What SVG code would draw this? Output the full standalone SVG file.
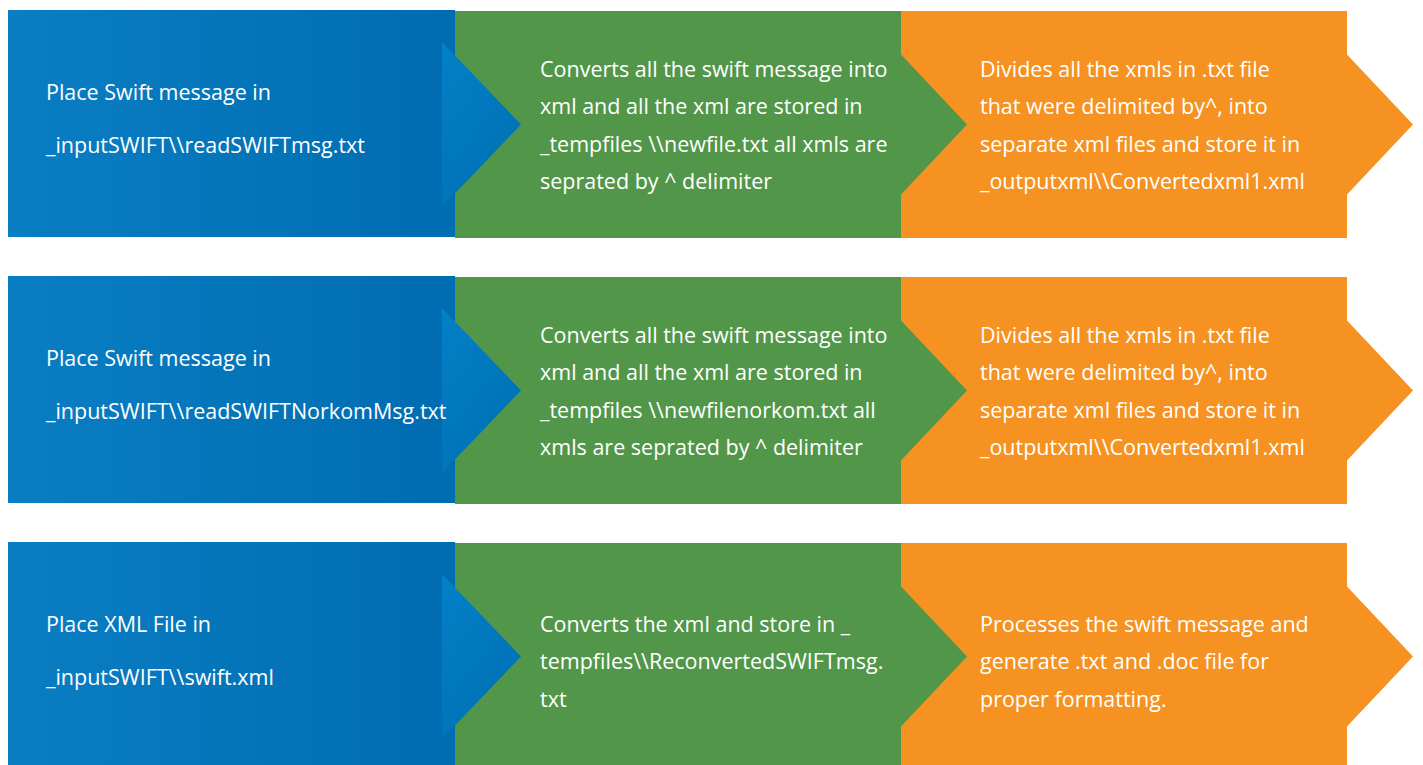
<svg xmlns="http://www.w3.org/2000/svg" width="1423" height="765" viewBox="0 0 1423 765">
  <style>
    .lbl { font-family: "Open Sans", "Liberation Sans", sans-serif; font-size: 21.5px; fill: #ffffff; }
    .green { fill: #52964a; }
    .orange { fill: #f69221; }
  </style>
  <defs>
    <linearGradient id="blueBody" x1="0" y1="0" x2="1" y2="0">
      <stop offset="0" stop-color="#0a7ec3"/>
      <stop offset="1" stop-color="#006cb1"/>
    </linearGradient>
    <linearGradient id="blueTip" x1="0" y1="0" x2="0.6" y2="1">
      <stop offset="0" stop-color="#0380c6"/>
      <stop offset="1" stop-color="#0071b6"/>
    </linearGradient>
    <!-- one row of the process: blue, green, orange stages -->
    <g id="stages">
      <polygon class="orange" points="901,11 1347,11 1347,54.5 1413,124.5 1347,194.5 1347,238 901,238"/>
      <polygon class="green" points="455,11 901,11 901,54.5 967,124.5 901,194.5 901,238 455,238"/>
      <rect x="8" y="10" width="447" height="227" fill="url(#blueBody)"/>
      <polygon points="442,42 521,124.5 442,207" fill="url(#blueTip)"/>
    </g>
  </defs>

  <g id="row1">
    <use href="#stages"/>
    <g id="node-r1-input">
      <text class="lbl" x="46" y="100">Place Swift message in</text>
      <text class="lbl" x="46" y="153">_inputSWIFT\\readSWIFTmsg.txt</text>
    </g>
    <g id="node-r1-convert">
      <text class="lbl" x="540" y="77">Converts all the swift message into</text>
      <text class="lbl" x="540" y="114">xml and all the xml are stored in</text>
      <text class="lbl" x="540" y="152">_tempfiles \\newfile.txt all xmls are</text>
      <text class="lbl" x="540" y="189">seprated by ^ delimiter</text>
    </g>
    <g id="node-r1-split">
      <text class="lbl" x="980" y="77">Divides all the xmls in .txt file</text>
      <text class="lbl" x="980" y="114">that were delimited by^, into</text>
      <text class="lbl" x="980" y="152">separate xml files and store it in</text>
      <text class="lbl" x="980" y="189">_outputxml\\Convertedxml1.xml</text>
    </g>
  </g>

  <g id="row2">
    <use href="#stages" y="266"/>
    <g id="node-r2-input">
      <text class="lbl" x="46" y="366">Place Swift message in</text>
      <text class="lbl" x="46" y="419">_inputSWIFT\\readSWIFTNorkomMsg.txt</text>
    </g>
    <g id="node-r2-convert">
      <text class="lbl" x="540" y="343">Converts all the swift message into</text>
      <text class="lbl" x="540" y="380">xml and all the xml are stored in</text>
      <text class="lbl" x="540" y="418">_tempfiles \\newfilenorkom.txt all</text>
      <text class="lbl" x="540" y="455">xmls are seprated by ^ delimiter</text>
    </g>
    <g id="node-r2-split">
      <text class="lbl" x="980" y="343">Divides all the xmls in .txt file</text>
      <text class="lbl" x="980" y="380">that were delimited by^, into</text>
      <text class="lbl" x="980" y="418">separate xml files and store it in</text>
      <text class="lbl" x="980" y="455">_outputxml\\Convertedxml1.xml</text>
    </g>
  </g>

  <g id="row3">
    <use href="#stages" y="532"/>
    <g id="node-r3-input">
      <text class="lbl" x="46" y="632">Place XML File in</text>
      <text class="lbl" x="46" y="685">_inputSWIFT\\swift.xml</text>
    </g>
    <g id="node-r3-convert">
      <text class="lbl" x="540" y="632">Converts the xml and store in _</text>
      <text class="lbl" x="540" y="669">tempfiles\\ReconvertedSWIFTmsg.</text>
      <text class="lbl" x="540" y="707">txt</text>
    </g>
    <g id="node-r3-process">
      <text class="lbl" x="980" y="632">Processes the swift message and</text>
      <text class="lbl" x="980" y="669">generate .txt and .doc file for</text>
      <text class="lbl" x="980" y="707">proper formatting.</text>
    </g>
  </g>

  <!-- stage-to-stage pointers are the arrow tips drawn in #stages -->
  <g id="connectors"/>
</svg>
